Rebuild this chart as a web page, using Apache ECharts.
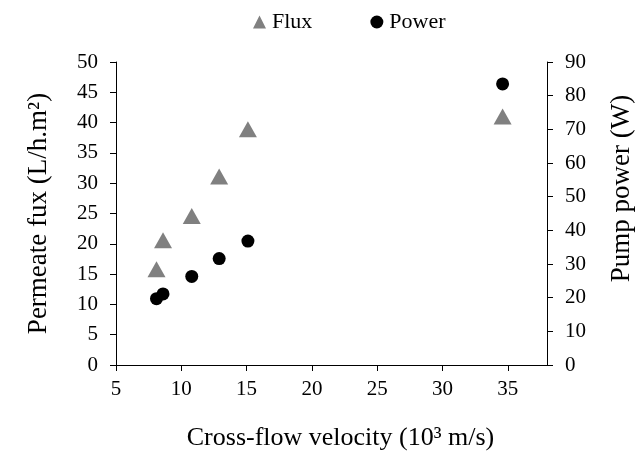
<!DOCTYPE html>
<html><head><meta charset="utf-8">
<script src="https://cdn.jsdelivr.net/npm/echarts@6/dist/echarts.min.js"></script>
<style>html,body{margin:0;padding:0;background:#fff}#c{width:644px;height:457px}</style>
</head><body><div id="c"></div>
<script>
const fluxX = [8.1, 8.6, 10.8, 12.9, 15.1, 34.6];
const fluxY = [15.8, 20.6, 24.6, 31.1, 38.9, 41.0];
const powerX = [8.1, 8.6, 10.8, 12.9, 15.1, 34.6];
const powerY = [19.7, 21.1, 26.3, 31.6, 36.8, 83.5];
const xTicks = [5, 10, 15, 20, 25, 30, 35];
const seriesNames = ['Flux', 'Power'];
const xTitle = 'Cross-flow velocity (10³ m/s)';
const yLeftTitle = 'Permeate fux (L/h.m²)';
const yRightTitle = 'Pump power (W)';

const font = 'Liberation Serif';
const chart = echarts.init(document.getElementById('c'));
const lbl = {color: '#000', fontFamily: font, fontSize: 21};
const axisCommon = {
  axisLine: {show: true, lineStyle: {color: '#000', width: 1}},
  axisTick: {show: true, inside: false, length: 6, lineStyle: {color: '#000'}},
  splitLine: {show: false}
};
const titleStyle = {fontFamily: font, fontSize: 26, color: '#000'};
chart.setOption({
  animation: false,
  textStyle: {fontFamily: font},
  legend: {
    top: 6, left: 248, itemGap: 58, itemWidth: 13, itemHeight: 13,
    textStyle: {fontFamily: font, fontSize: 22, color: '#000', padding: [0, 0, 0, 1]},
    data: [{name: seriesNames[0], icon: 'triangle'}, {name: seriesNames[1], icon: 'circle'}]
  },
  grid: {left: 116, right: 97, top: 62, bottom: 92},
  xAxis: Object.assign({}, axisCommon, {
    type: 'value', min: 5, max: 38, interval: 5,
    axisTick: Object.assign({}, axisCommon.axisTick, {customValues: xTicks}),
    axisLabel: Object.assign({}, lbl, {margin: 14, customValues: xTicks}),
    name: xTitle, nameLocation: 'middle', nameGap: 60,
    nameTextStyle: Object.assign({}, titleStyle, {padding: [0, 0, 0, 18]})
  }),
  yAxis: [
    Object.assign({}, axisCommon, {
      type: 'value', min: 0, max: 50, interval: 5, position: 'left',
      axisLabel: Object.assign({}, lbl, {margin: 18}),
      name: yLeftTitle, nameLocation: 'middle', nameGap: 64, nameRotate: 90,
      nameTextStyle: Object.assign({}, titleStyle, {fontSize: 27})
    }),
    Object.assign({}, axisCommon, {
      type: 'value', min: 0, max: 90, interval: 10, position: 'right',
      axisLabel: Object.assign({}, lbl, {margin: 18}),
      name: yRightTitle, nameLocation: 'middle', nameGap: 61, nameRotate: 90,
      nameTextStyle: Object.assign({}, titleStyle, {fontSize: 27, padding: [0, 0, 0, 50]})
    })
  ],
  series: [
    {name: seriesNames[0], type: 'scatter', yAxisIndex: 0, symbol: 'triangle', symbolSize: [18, 16],
     itemStyle: {color: '#808080', opacity: 1},
     data: fluxX.map((x, i) => [x, fluxY[i]])},
    {name: seriesNames[1], type: 'scatter', yAxisIndex: 1, symbol: 'circle', symbolSize: 13,
     itemStyle: {color: '#000', opacity: 1},
     data: powerX.map((x, i) => [x, powerY[i]])}
  ]
});
</script></body></html>
